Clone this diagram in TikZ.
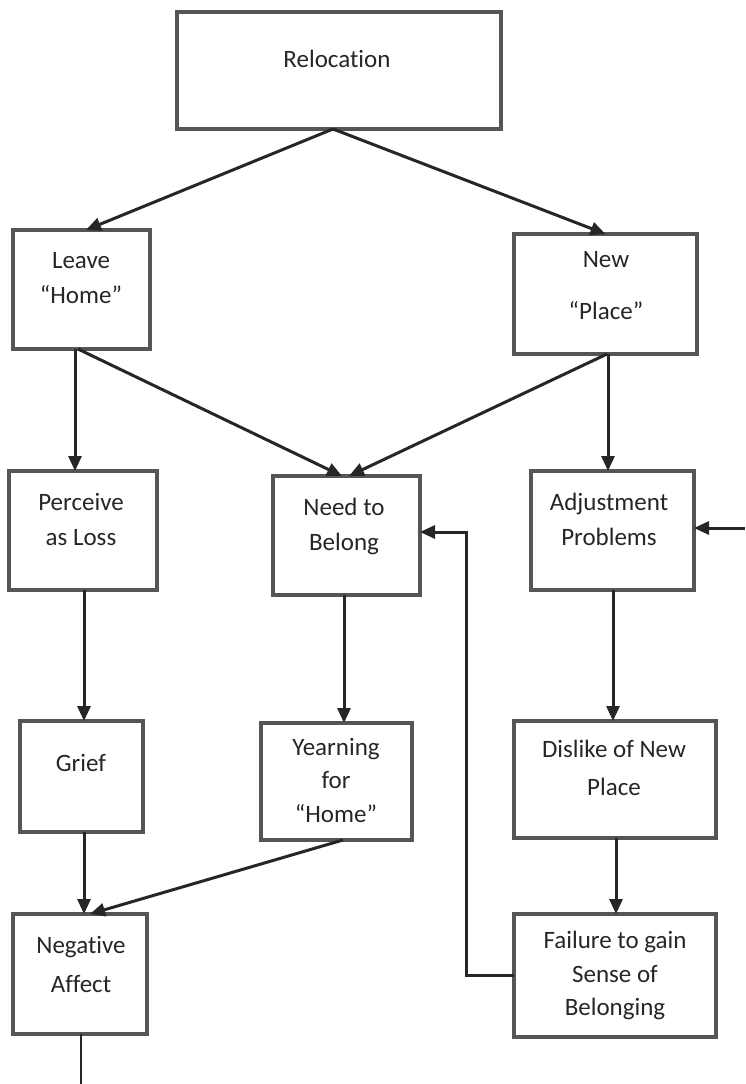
\documentclass[tikz,border=0pt]{standalone}
\usepackage{fontspec}
\setmainfont{Carlito}[Ligatures=NoCommon]
\usetikzlibrary{arrows.meta}
\definecolor{boxc}{HTML}{555555}
\definecolor{arrc}{HTML}{262626}
\definecolor{txtc}{HTML}{262626}
\begin{document}
\begin{tikzpicture}[x=1pt,y=-1pt,
  box/.style={draw=boxc, line width=3.2pt, inner sep=0pt, outer sep=0pt, rectangle},
  lbl/.style={anchor=base, inner sep=0pt, text=txtc, font=\fontsize{25}{30}\selectfont},
  arr/.style={draw=arrc, line width=3pt, -{Triangle[length=15pt,width=13pt]}},
  plain/.style={draw=arrc, line width=1.8pt}]
\useasboundingbox (0,0) rectangle (745,1084);
% boxes
\node[box, minimum width=324pt, minimum height=117pt] (rel) at (339,70.5) {};
\node[box, minimum width=137pt, minimum height=119pt] (leave) at (81.5,289.5) {};
\node[box, minimum width=183pt, minimum height=120pt] (new) at (605.5,294) {};
\node[box, minimum width=148pt, minimum height=119pt] (perc) at (83,530.5) {};
\node[box, minimum width=147pt, minimum height=119pt] (need) at (346.5,535.5) {};
\node[box, minimum width=163pt, minimum height=119pt] (adj) at (612.5,530.5) {};
\node[box, minimum width=123pt, minimum height=111pt] (grief) at (81.5,776.5) {};
\node[box, minimum width=151pt, minimum height=117pt] (yearn) at (336.5,781.5) {};
\node[box, minimum width=202pt, minimum height=117pt] (dislike) at (615,779.5) {};
\node[box, minimum width=134pt, minimum height=120pt] (neg) at (80,974) {};
\node[box, minimum width=202pt, minimum height=123pt] (fail) at (615,975.5) {};
% labels
\node[lbl] (relT) at (337,67) {Relocation};
\node[lbl] (leaveT1) at (81,268) {Leave};
\node[lbl] (leaveT2) at (81,303) {“Home”};
\node[lbl] (newT1) at (606,267) {New};
\node[lbl] (newT2) at (606,319) {“Place”};
\node[lbl] (percT1) at (81,510) {Perceive};
\node[lbl] (percT2) at (81,545) {as Loss};
\node[lbl] (needT1) at (344,515) {Need to};
\node[lbl] (needT2) at (344,550) {Belong};
\node[lbl] (adjT1) at (609,510) {Adjustment};
\node[lbl] (adjT2) at (609,545) {Problems};
\node[lbl] (griefT) at (81,771) {Grief};
\node[lbl] (yearnT1) at (336,755) {Yearning};
\node[lbl] (yearnT2) at (336,788) {for};
\node[lbl] (yearnT3) at (336,822) {“Home”};
\node[lbl] (dislikeT1) at (614,757) {Dislike of New};
\node[lbl] (dislikeT2) at (614,795) {Place};
\node[lbl] (negT1) at (81,953) {Negative};
\node[lbl] (negT2) at (81,992) {Affect};
\node[lbl] (failT1) at (615,948) {Failure to gain};
\node[lbl] (failT2) at (615,982) {Sense of};
\node[lbl] (failT3) at (615,1015) {Belonging};
% connectors
\draw[arr] ([xshift=-6pt]rel.south) -- ([xshift=4.5pt]leave.north);
\draw[arr] ([xshift=-6pt]rel.south) -- (new.north);
\draw[arr] ([xshift=-6.5pt]leave.south) -- ([xshift=-8pt]perc.north);
\draw[arr] ([xshift=-3.5pt]leave.south) -- ([xshift=-4.5pt]need.north);
\draw[arr] ([xshift=1.5pt]new.south) -- ([xshift=2.5pt]need.north);
\draw[arr] ([xshift=2.5pt]new.south) -- ([xshift=-4.5pt]adj.north);
\coordinate (ext) at (745,528);
\draw[arr] (ext) -- (ext -| adj.east);
\draw[arr] ([xshift=1pt]perc.south) -- ([xshift=2.5pt]grief.north);
\draw[arr] ([xshift=-2.5pt]need.south) -- ([xshift=7.5pt]yearn.north);
\draw[arr] ([xshift=0.5pt]adj.south) -- ([xshift=-2pt]dislike.north);
\draw[arr] ([xshift=2.5pt]grief.south) -- ([xshift=4pt]neg.north);
\draw[arr] ([xshift=6.5pt]yearn.south) -- ([xshift=10pt]neg.north);
\draw[arr] ([xshift=1pt]dislike.south) -- ([xshift=1pt]fail.north);
\coordinate (fb) at (466,532);
\draw[arr] (fail.west) -- (fail.west -| fb) -- (fb) -- (fb -| need.east);
\coordinate (bot) at (81,1084);
\draw[plain] ([xshift=1pt]neg.south) -- (bot);
\end{tikzpicture}
\end{document}
